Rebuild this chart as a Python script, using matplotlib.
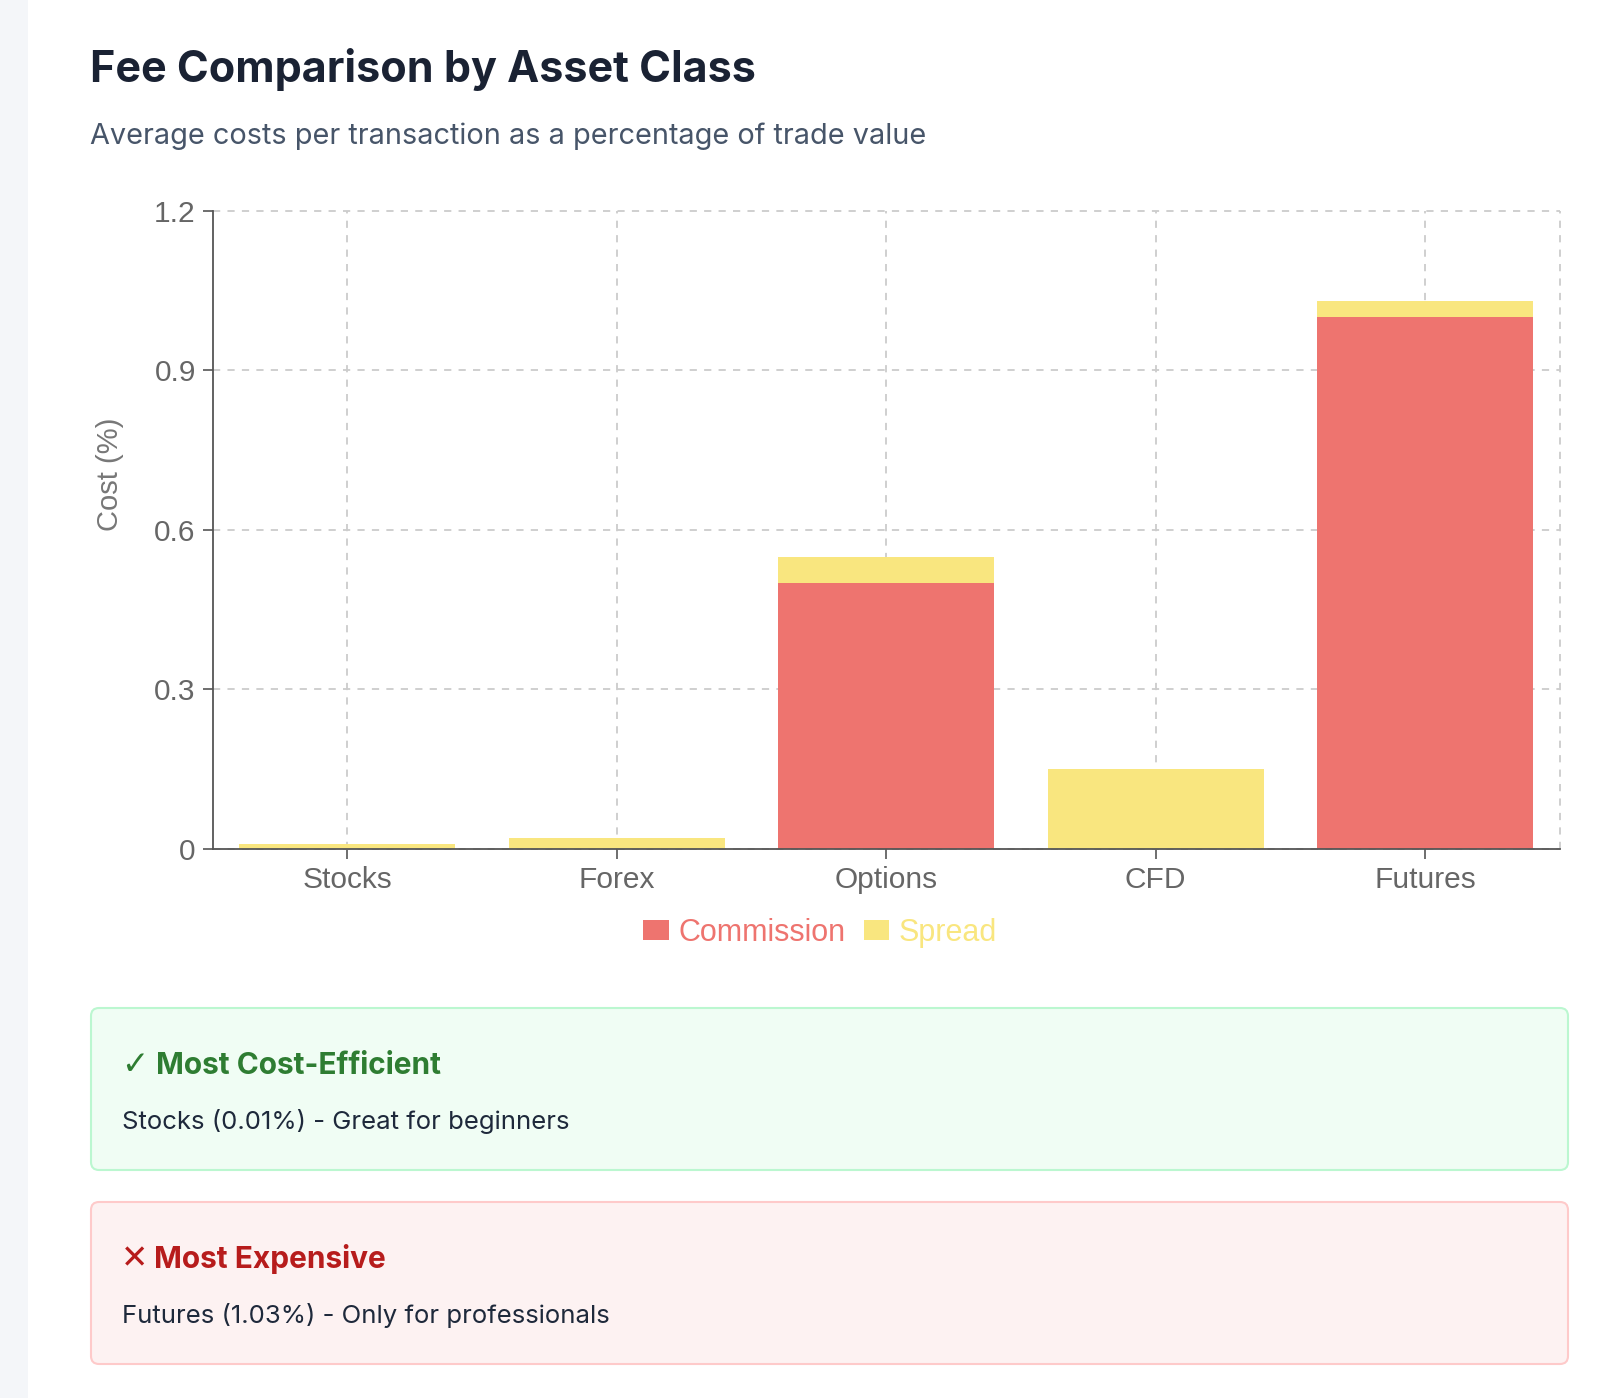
import numpy as np
import matplotlib
matplotlib.use("Agg")
import matplotlib.pyplot as plt
from matplotlib.patches import Patch, FancyBboxPatch, Rectangle

# data
categories = ["Stocks", "Forex", "Options", "CFD", "Futures"]
commission = [0.0, 0.0, 0.50, 0.0, 1.00]
spread = [0.01, 0.02, 0.05, 0.15, 0.03]
y_ticks = [0, 0.3, 0.6, 0.9, 1.2]
y_tick_labels = ["0", "0.3", "0.6", "0.9", "1.2"]

COMM_COLOR = "#EE746F"
SPREAD_COLOR = "#F9E67F"
W, H = 1600, 1398
HELV = ["Liberation Sans", "DejaVu Sans"]

plt.rcParams["font.family"] = ["Inter", "DejaVu Sans"]

fig = plt.figure(figsize=(W / 100, H / 100), dpi=100)
fig.patch.set_facecolor("white")

# background layer in pixel coordinates (y down)
bg = fig.add_axes([0, 0, 1, 1], zorder=0)
bg.set_xlim(0, W)
bg.set_ylim(H, 0)
bg.axis("off")
bg.add_patch(Rectangle((0, 0), 28, H, color="#F4F6F9", lw=0))

bg.text(90, 82, "Fee Comparison by Asset Class", fontsize=31, fontweight="bold",
        color="#1A2233", va="baseline", ha="left")
bg.text(90, 144, "Average costs per transaction as a percentage of trade value",
        fontsize=20.8, color="#475569", va="baseline", ha="left")

# note boxes
boxes = [
    (1008, "#F0FDF4", "#BBF7D0", "✓", 156, "Most Cost-Efficient", "#2E7D32",
     "Stocks (0.01%) - Great for beginners"),
    (1202, "#FDF2F2", "#FECACA", "✕", 154, "Most Expensive", "#B71C1C",
     "Futures (1.03%) - Only for professionals"),
]
for top, fill, edge, sym, head_x, head, head_color, body in boxes:
    bg.add_patch(FancyBboxPatch((91, top), 1477, 162,
                                boxstyle="round,pad=0,rounding_size=8",
                                facecolor=fill, edgecolor=edge, lw=1.5))
    bg.text(121, top + 66, sym, fontsize=23.5, color=head_color,
            va="baseline", ha="left", family=["DejaVu Sans"])
    bg.text(head_x, top + 66, head, fontsize=21.5, fontweight="bold", color=head_color,
            va="baseline", ha="left")
    bg.text(122, top + 121, body, fontsize=18.5, color="#1E293B",
            va="baseline", ha="left")

# y axis title, placed as in the reference
bg.text(110, 474, "Cost (%)", rotation=90, fontsize=21, color="#777777",
        ha="center", va="center", family=HELV)

# chart
ax = fig.add_axes([212.5 / W, 1 - 849 / H, (1560 - 212.5) / W, (849 - 211) / H], zorder=1)
ax.patch.set_alpha(0)
x = np.arange(len(categories))
ax.bar(x, commission, width=0.8, color=COMM_COLOR, label="Commission", zorder=2)
ax.bar(x, spread, width=0.8, bottom=commission, color=SPREAD_COLOR, label="Spread", zorder=2)

ax.set_xlim(-0.5, len(categories) - 0.5)
ax.set_ylim(0, 1.2)
ax.set_xticks(x)
ax.set_xticklabels(categories, family=HELV)
ax.set_yticks(y_ticks)
ax.set_yticklabels(y_tick_labels, family=HELV)
ax.tick_params(axis="both", colors="#555555", labelcolor="#666666", labelsize=21.5,
               length=7, width=1.2, pad=5)

grid_style = dict(color="#CCCCCC", linestyle=(0, (4, 4)), linewidth=1.3)
ax.set_axisbelow(True)
ax.grid(True, **grid_style)
for gl in ax.get_xgridlines() + ax.get_ygridlines():
    gl.set_clip_on(False)
ax.axvline(ax.get_xlim()[1], zorder=1, clip_on=False, **grid_style)

for side in ["top", "right"]:
    ax.spines[side].set_visible(False)
for side in ["left", "bottom"]:
    ax.spines[side].set_color("#555555")
    ax.spines[side].set_linewidth(1.3)

handles = [Patch(facecolor=COMM_COLOR), Patch(facecolor=SPREAD_COLOR)]
fig.legend(handles, ["Commission", "Spread"], loc="center", bbox_to_anchor=(820 / W, 1 - 933 / H),
           ncol=2, frameon=False, labelcolor=[COMM_COLOR, SPREAD_COLOR],
           handlelength=0.84, handleheight=0.65, handletextpad=0.3, columnspacing=0.6,
           prop={"family": HELV, "size": 22})

fig.savefig("out.png", dpi=100)
